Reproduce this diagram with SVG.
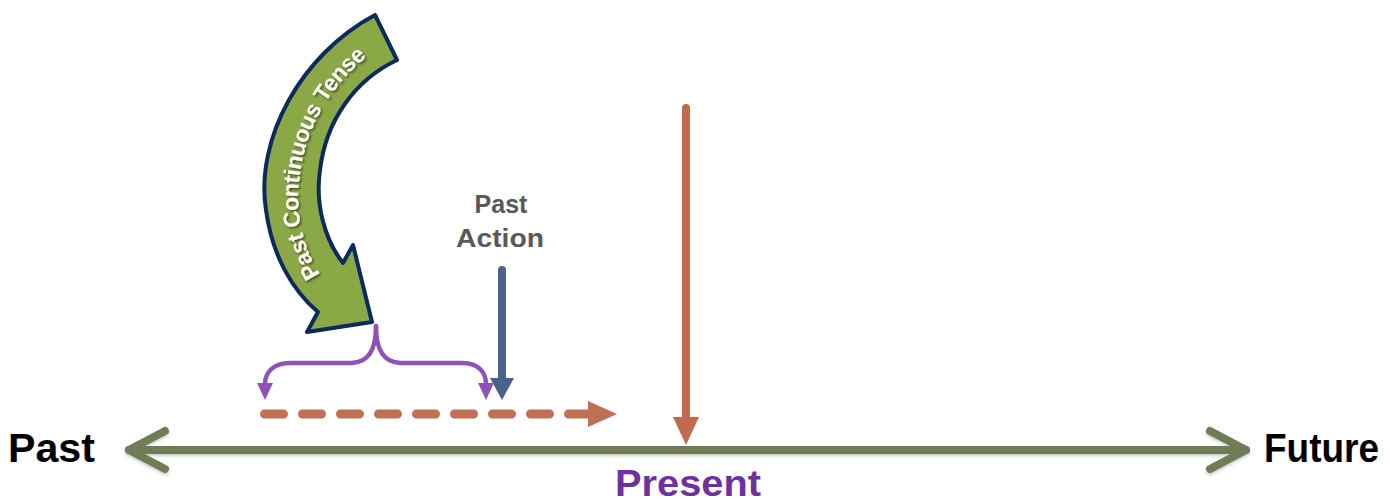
<svg xmlns="http://www.w3.org/2000/svg" xmlns:xlink="http://www.w3.org/1999/xlink" width="1390" height="504" viewBox="0 0 1390 504">
  <style>
    .lbl { font-family: "Liberation Sans", Arial, sans-serif; font-weight: bold; }
    .end { font-size: 40px; fill: #000000; }
    .present { font-size: 37px; fill: #7030a0; }
    .action { font-size: 25px; fill: #595959; text-anchor: middle; }
    .band { font-size: 23px; fill: #ffffff; }
    .timeline { fill: none; stroke: #6f7c57; stroke-width: 8; stroke-linecap: round; stroke-linejoin: round; }
    .red { fill: none; stroke: #c06a50; stroke-width: 8; stroke-linecap: round; }
    .blue { fill: none; stroke: #4a628c; stroke-width: 8; stroke-linecap: round; }
    .dash { fill: none; stroke: #c07055; stroke-width: 9; stroke-linecap: round; stroke-dasharray: 19 19; }
    .brace { fill: none; stroke: #8f52b8; stroke-width: 4.5; stroke-linecap: round; stroke-linejoin: round; }
  </style>
  <defs>
    <filter id="shadow" x="-20%" y="-20%" width="140%" height="140%">
      <feDropShadow dx="1.5" dy="1.5" stdDeviation="1.2" flood-color="#000000" flood-opacity="0.55"/>
    </filter>
    <filter id="lineShadow" x="-5%" y="-50%" width="110%" height="200%">
      <feDropShadow dx="0" dy="2" stdDeviation="1.5" flood-color="#000000" flood-opacity="0.2"/>
    </filter>
    <marker id="headRed" viewBox="0 0 28 26" refX="0" refY="13" markerWidth="28" markerHeight="26" markerUnits="userSpaceOnUse" orient="auto">
      <path d="M0,0 L28,13 L0,26 Z" fill="#c06a50"/>
    </marker>
    <marker id="headBlue" viewBox="0 0 22 24" refX="0" refY="12" markerWidth="22" markerHeight="24" markerUnits="userSpaceOnUse" orient="auto">
      <path d="M0,0 L22,12 L0,24 Z" fill="#4a628c"/>
    </marker>
    <marker id="headDash" viewBox="0 0 29 26" refX="0" refY="13" markerWidth="29" markerHeight="26" markerUnits="userSpaceOnUse" orient="auto">
      <path d="M0,0 L29,13 L0,26 Z" fill="#c07055"/>
    </marker>
    <marker id="headPurple" viewBox="0 0 17 16" refX="1" refY="8" markerWidth="17" markerHeight="16" markerUnits="userSpaceOnUse" orient="auto">
      <path d="M0,0 L17,8 L0,16 Z" fill="#8f52b8"/>
    </marker>
    <path id="bandPath" d="M318,285 C296,255 286,215 292,175 C298,120 330,70 380,37"/>
  </defs>

  <g id="connectors">
    <g id="timeline" filter="url(#lineShadow)">
      <path class="timeline" d="M129,450 L1246,450"/>
      <path class="timeline" d="M165,431 L129,450 L165,469"/>
      <path class="timeline" d="M1210,431 L1246,450 L1210,469"/>
    </g>
    <path id="present-marker" class="red" d="M686,108 L686,417" marker-end="url(#headRed)"/>
    <path id="past-action-arrow" class="blue" d="M502,270 L502,378" marker-end="url(#headBlue)"/>
    <path id="continuous-dashed" class="dash" d="M264.5,414 L588,414" marker-end="url(#headDash)"/>
    <path id="brace-left" class="brace" d="M376,326 C376,346 371,362 352,363 L290,363 C275,363 265,371 265,384" marker-end="url(#headPurple)"/>
    <path id="brace-right" class="brace" d="M376,326 C376,346 381,362 400,363 L462,363 C477,363 486,371 486,384" marker-end="url(#headPurple)"/>
  </g>

  <g id="node-past">
    <text class="lbl end" x="8" y="462" textLength="87" lengthAdjust="spacingAndGlyphs">Past</text>
  </g>
  <g id="node-future">
    <text class="lbl end" x="1264" y="462" textLength="115" lengthAdjust="spacingAndGlyphs">Future</text>
  </g>
  <g id="node-present">
    <text class="lbl present" x="615" y="496" textLength="146" lengthAdjust="spacingAndGlyphs">Present</text>
  </g>
  <g id="node-past-action">
    <text class="lbl action" x="501" y="213">Past</text>
    <text class="lbl action" x="500" y="247" textLength="88" lengthAdjust="spacingAndGlyphs">Action</text>
  </g>
  <g id="node-past-continuous">
    <path d="M375,15 C300,55 255,140 266,210 C272,255 292,290 318,312 L307,332 L372,322 L353,245 L343,263 C325,240 315,205 320,170 C326,120 355,80 397,60 Z" fill="#8ba846" stroke="#0d2a5e" stroke-width="4" stroke-linejoin="round"/>
    <text class="lbl band" filter="url(#shadow)" dy="8"><textPath xlink:href="#bandPath" href="#bandPath" startOffset="8">Past Continuous Tense</textPath></text>
  </g>
</svg>
